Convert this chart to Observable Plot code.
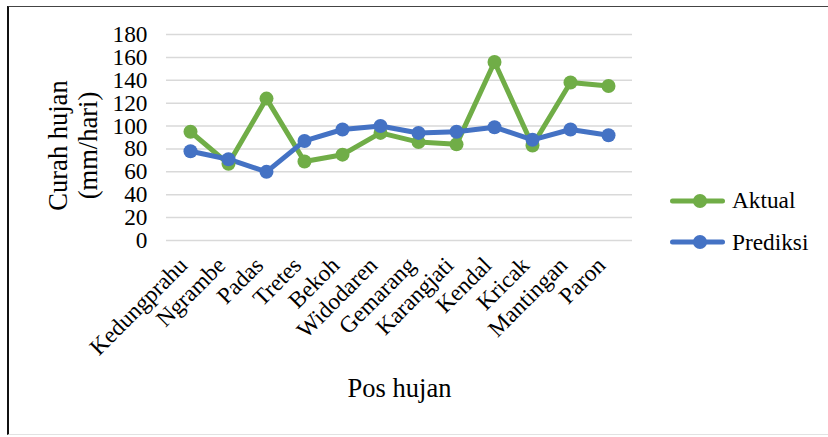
<!DOCTYPE html>
<html>
<head>
<meta charset="utf-8">
<script src="https://cdn.jsdelivr.net/npm/d3@7"></script>
<script src="https://cdn.jsdelivr.net/npm/@observablehq/plot@0.6"></script>
<style>
  html, body { margin: 0; padding: 0; background: #fff; }
  #chart { position: relative; width: 828px; height: 437px; overflow: hidden; font-family: "Liberation Serif", "Times New Roman", serif; }
  #frame { position: absolute; left: 7px; top: 6px; width: 840px; height: 429px;
           border-left: 2px solid #111; border-top: 1.5px solid #444; border-bottom: 1px solid #e2e2e2; box-sizing: border-box; }
  #chart svg { position: absolute; left: 0; top: 0; }
  #legend { position: absolute; left: 667px; top: 180px; font-size: 23.3px; line-height: 1; color: #000; }
  .item { display: flex; align-items: center; height: 41.6px; }
  .item svg { position: static !important; margin-right: 7px; }
</style>
</head>
<body>
<div id="chart"><div id="frame"></div></div>
<script>
// Rain gauge stations
const pos = ["Kedungprahu", "Ngrambe", "Padas", "Tretes", "Bekoh", "Widodaren",
             "Gemarang", "Karangjati", "Kendal", "Kricak", "Mantingan", "Paron"];
// Daily rainfall (mm/hari): observed and predicted
const aktual   = [95, 67, 124, 69, 75, 94, 86, 84, 156, 83, 138, 135];
const prediksi = [78, 71, 60, 87, 97, 100, 94, 95, 99, 88, 97, 92];
const seriesNames = ["Aktual", "Prediksi"];
const seriesColors = ["#70ad47", "#4472c4"];
const yTicks = [0, 20, 40, 60, 80, 100, 120, 140, 160, 180];

const rows = [
  ...pos.map((p, i) => ({pos: p, value: aktual[i], series: "Aktual"})),
  ...pos.map((p, i) => ({pos: p, value: prediksi[i], series: "Prediksi"}))
];

const chart = Plot.plot({
  width: 828,
  height: 437,
  marginLeft: 166,
  marginRight: 196,
  marginTop: 34,
  marginBottom: 197,
  style: {fontFamily: "'Liberation Serif', 'Times New Roman', serif", fontSize: "23.3px", color: "#000", background: "transparent", overflow: "visible"},
  x: {type: "point", domain: pos, padding: 0.5, label: null},
  y: {domain: [0, 180], label: null},
  color: {domain: seriesNames, range: seriesColors},
  marks: [
    Plot.gridY(yTicks, {stroke: "#d9d9d9", strokeOpacity: 1, strokeWidth: 1.5}),
    Plot.axisY(yTicks, {tickSize: 0, tickPadding: 19, label: null, fontSize: 23.3}),
    Plot.axisX({tickSize: 0, tickPadding: 16, tickRotate: -45, dx: -7, dy: 5, label: null, fontSize: 23.3}),
    Plot.line(rows, {x: "pos", y: "value", z: "series", stroke: "series", strokeWidth: 5, strokeLinejoin: "round", strokeLinecap: "round"}),
    Plot.dot(rows, {x: "pos", y: "value", fill: "series", r: 7, stroke: null}),
    Plot.text(["Curah hujan\n(mm/hari)"], {frameAnchor: "left", textAnchor: "middle", lineAnchor: "middle", rotate: -90, dx: -94, dy: 8, fontSize: 26.5, lineHeight: 1.12, fill: "#000"}),
    Plot.text(["Pos hujan"], {frameAnchor: "bottom", dy: 156, fontSize: 26.5, fill: "#000"})
  ]
});
document.getElementById("chart").appendChild(chart);

// Legend: line with marker, then series name
const legend = document.createElement("div");
legend.id = "legend";
seriesNames.forEach((name, i) => {
  const item = document.createElement("div");
  item.className = "item";
  const svg = d3.create("svg").attr("width", 58).attr("height", 16);
  svg.append("line").attr("x1", 5.5).attr("x2", 55.5).attr("y1", 8).attr("y2", 8)
    .attr("stroke", seriesColors[i]).attr("stroke-width", 5).attr("stroke-linecap", "round");
  svg.append("circle").attr("cx", 33).attr("cy", 8).attr("r", 7).attr("fill", seriesColors[i]);
  item.appendChild(svg.node());
  const label = document.createElement("span");
  label.textContent = name;
  item.appendChild(label);
  legend.appendChild(item);
});
document.getElementById("chart").appendChild(legend);
</script>
</body>
</html>
